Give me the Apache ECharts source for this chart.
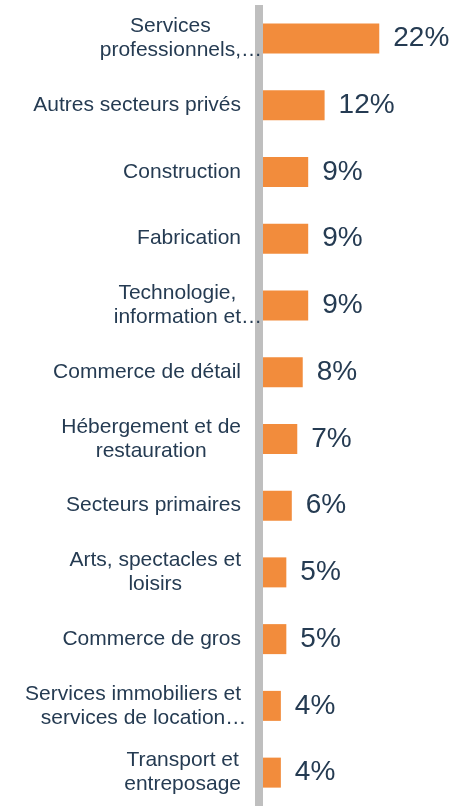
<!DOCTYPE html>
<html>
<head>
<meta charset="utf-8">
<script src="https://cdn.jsdelivr.net/npm/echarts@6/dist/echarts.min.js"></script>
<style>
  html, body { margin: 0; padding: 0; background: #fff; }
  #chart { width: 455px; height: 806px; }
</style>
</head>
<body>
<div id="chart"></div>
<script>
// données
const categories = [
  "Services\nprofessionnels,…",
  "Autres secteurs privés",
  "Construction",
  "Fabrication",
  "Technologie,\ninformation et…",
  "Commerce de détail",
  "Hébergement et de\nrestauration",
  "Secteurs primaires",
  "Arts, spectacles et\nloisirs",
  "Commerce de gros",
  "Services immobiliers et\nservices de location…",
  "Transport et\nentreposage"
];
const values = [22, 12, 9, 9, 9, 8, 7, 6, 5, 5, 4, 4];

const textColor = "#253B52";
const barColor = "#F28C3C";
const fontFamily = "'Liberation Sans', Arial, sans-serif";

// lignes centrées, les points de suspension débordent à droite
function formatCategory(name) {
  return name
    .split("\n")
    .map((line) => {
      if (line.endsWith("…")) {
        return "{c|" + line.slice(0, -1) + "}{e|…}";
      }
      return "{c|" + line + "}";
    })
    .join("\n");
}

const chart = echarts.init(document.getElementById("chart"));

const option = {
  backgroundColor: "#fff",
  animation: false,
  grid: { left: 259, right: 32, top: 5, bottom: 0 },
  xAxis: { type: "value", min: 0, max: 30, show: false },
  yAxis: {
    type: "category",
    data: categories,
    inverse: true,
    z: 3,
    axisLine: {
      show: true,
      lineStyle: { color: "#BFBFBF", width: 8, cap: "butt" }
    },
    axisTick: { show: false },
    splitLine: { show: false },
    axisLabel: {
      interval: 0,
      margin: 18,
      formatter: formatCategory,
      rich: {
        c: {
          align: "center",
          fontSize: 21,
          lineHeight: 24,
          color: textColor,
          fontFamily: fontFamily
        },
        e: {
          align: "center",
          width: 0,
          padding: [0, -10.5, 0, 10.5],
          fontSize: 21,
          lineHeight: 24,
          color: textColor,
          fontFamily: fontFamily
        }
      }
    }
  },
  series: [
    {
      type: "bar",
      data: values,
      barWidth: 30,
      itemStyle: { color: barColor },
      label: {
        show: true,
        position: "right",
        distance: 14,
        fontSize: 28,
        color: textColor,
        fontFamily: fontFamily,
        formatter: "{c}%"
      }
    }
  ]
};

chart.setOption(option);
</script>
</body>
</html>
